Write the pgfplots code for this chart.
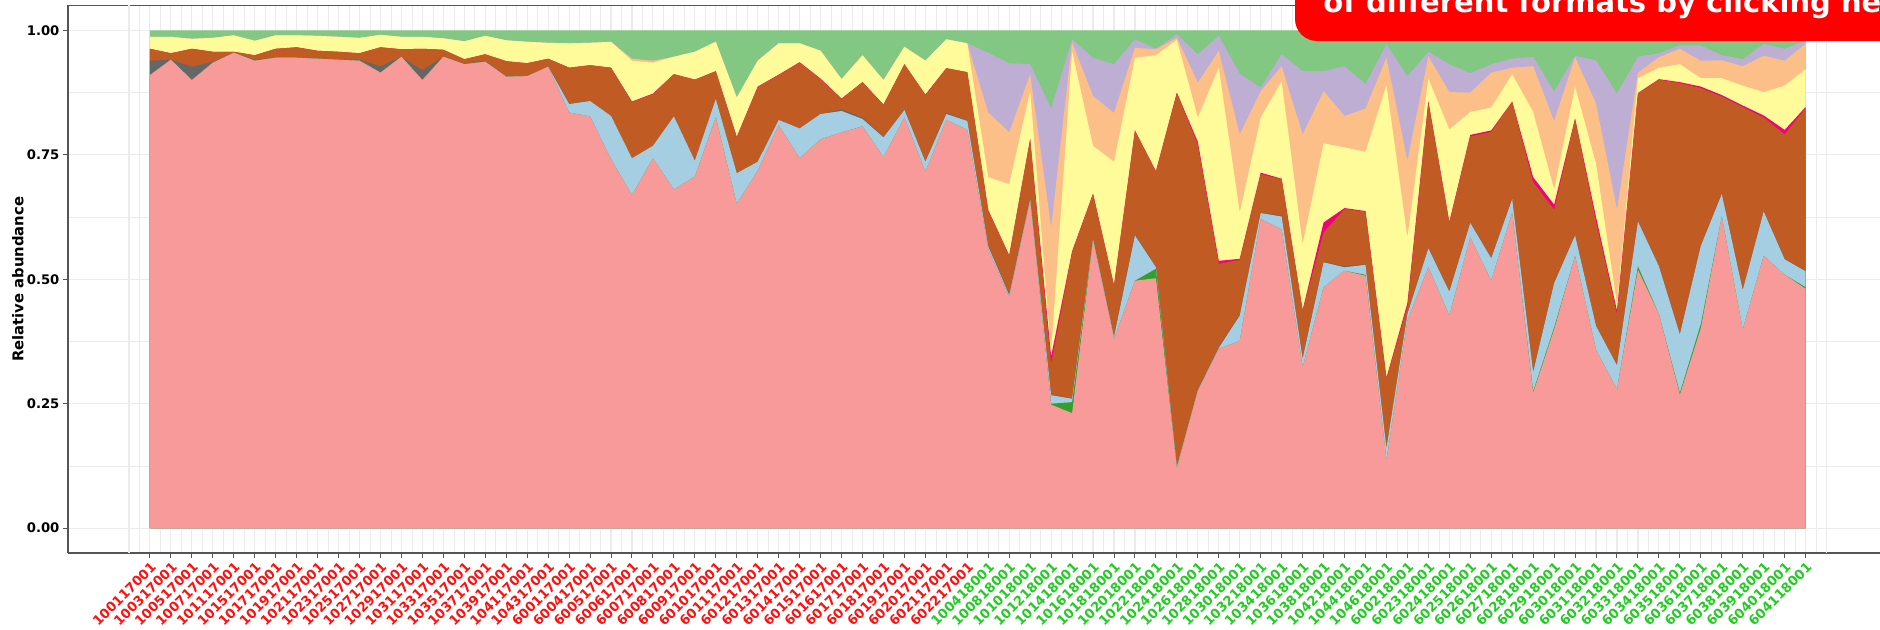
\documentclass[border=0pt]{standalone}
\usepackage{fontspec}
\setmainfont{DejaVu Sans}
\usepackage{pgfplots}
\pgfplotsset{compat=1.18}
\usepackage{pgfplotstable}
\definecolor{cPink}{HTML}{F89A9A}
\definecolor{cDG}{HTML}{33A02C}
\definecolor{cLB}{HTML}{A6CEE3}
\definecolor{cGrey}{HTML}{666666}
\definecolor{cBrown}{HTML}{BF5B23}
\definecolor{cMag}{HTML}{F0027F}
\definecolor{cYel}{HTML}{FFFA9A}
\definecolor{cOra}{HTML}{FCBF88}
\definecolor{cLav}{HTML}{BEAED4}
\definecolor{cGreen}{HTML}{82C782}
\definecolor{gridcol}{HTML}{EBEBEB}
\definecolor{axcol}{HTML}{555555}
\definecolor{labred}{HTML}{FF1010}
\definecolor{labgreen}{HTML}{22CC22}
\definecolor{boxred}{HTML}{FF0000}
\newcommand\R[1]{\textcolor{labred}{#1}}
\newcommand\G[1]{\textcolor{labgreen}{#1}}

\pgfplotstableread{
x P DG LB G B M Y O L T
0 0.910 0.910 0.910 0.939 0.963 0.963 0.987 0.987 0.987 1
1 0.941 0.941 0.941 0.941 0.954 0.954 0.987 0.987 0.987 1
2 0.900 0.900 0.900 0.927 0.963 0.963 0.983 0.983 0.983 1
3 0.935 0.935 0.935 0.937 0.957 0.957 0.985 0.985 0.985 1
4 0.955 0.955 0.955 0.955 0.957 0.957 0.990 0.990 0.990 1
5 0.939 0.939 0.939 0.941 0.950 0.950 0.979 0.979 0.979 1
6 0.945 0.945 0.945 0.945 0.963 0.963 0.990 0.990 0.990 1
7 0.945 0.945 0.945 0.945 0.966 0.966 0.990 0.990 0.990 1
8 0.943 0.943 0.943 0.943 0.959 0.959 0.989 0.989 0.989 1
9 0.941 0.941 0.941 0.942 0.957 0.957 0.987 0.987 0.987 1
10 0.939 0.939 0.939 0.941 0.954 0.954 0.985 0.985 0.985 1
11 0.915 0.915 0.915 0.928 0.966 0.966 0.991 0.991 0.991 1
12 0.947 0.947 0.947 0.947 0.962 0.962 0.987 0.987 0.987 1
13 0.900 0.900 0.900 0.920 0.963 0.963 0.987 0.987 0.987 1
14 0.947 0.947 0.947 0.947 0.961 0.961 0.984 0.984 0.984 1
15 0.932 0.932 0.932 0.933 0.942 0.942 0.978 0.978 0.978 1
16 0.937 0.937 0.937 0.939 0.952 0.952 0.989 0.989 0.989 1
17 0.907 0.907 0.907 0.908 0.938 0.938 0.980 0.980 0.980 1
18 0.908 0.908 0.908 0.908 0.934 0.934 0.977 0.977 0.977 1
19 0.927 0.927 0.927 0.928 0.943 0.943 0.975 0.975 0.975 1
20 0.835 0.835 0.852 0.853 0.925 0.925 0.974 0.974 0.974 1
21 0.827 0.827 0.858 0.858 0.930 0.930 0.975 0.975 0.975 1
22 0.741 0.741 0.828 0.828 0.925 0.925 0.977 0.977 0.977 1
23 0.669 0.669 0.743 0.743 0.856 0.857 0.939 0.943 0.943 1
24 0.743 0.743 0.768 0.768 0.872 0.873 0.935 0.939 0.939 1
25 0.680 0.680 0.827 0.827 0.912 0.912 0.947 0.947 0.947 1
26 0.706 0.706 0.738 0.738 0.901 0.901 0.957 0.957 0.957 1
27 0.825 0.825 0.862 0.862 0.918 0.918 0.977 0.977 0.977 1
28 0.651 0.651 0.713 0.713 0.785 0.786 0.865 0.865 0.865 1
29 0.718 0.718 0.736 0.736 0.886 0.887 0.939 0.939 0.939 1
30 0.809 0.809 0.820 0.820 0.910 0.911 0.974 0.974 0.974 1
31 0.743 0.743 0.803 0.803 0.935 0.936 0.974 0.974 0.974 1
32 0.781 0.781 0.832 0.832 0.902 0.903 0.959 0.959 0.959 1
33 0.795 0.795 0.838 0.841 0.862 0.863 0.902 0.902 0.902 1
34 0.807 0.807 0.822 0.825 0.896 0.896 0.950 0.950 0.950 1
35 0.745 0.745 0.785 0.786 0.850 0.851 0.900 0.900 0.900 1
36 0.825 0.825 0.840 0.841 0.932 0.932 0.967 0.967 0.967 1
37 0.716 0.716 0.736 0.737 0.870 0.871 0.939 0.939 0.939 1
38 0.820 0.820 0.832 0.834 0.924 0.924 0.982 0.982 0.982 1
39 0.800 0.800 0.818 0.819 0.916 0.916 0.974 0.974 0.974 1
40 0.561 0.561 0.566 0.569 0.638 0.639 0.705 0.835 0.955 1
41 0.464 0.464 0.468 0.471 0.547 0.548 0.691 0.795 0.934 1
42 0.658 0.658 0.661 0.664 0.781 0.782 0.878 0.912 0.932 1
43 0.248 0.250 0.267 0.268 0.330 0.345 0.354 0.604 0.843 1
44 0.231 0.253 0.260 0.261 0.554 0.556 0.958 0.976 0.982 1
45 0.578 0.578 0.581 0.584 0.671 0.672 0.768 0.868 0.945 1
46 0.380 0.380 0.384 0.386 0.487 0.488 0.736 0.834 0.932 1
47 0.497 0.497 0.588 0.590 0.798 0.799 0.945 0.965 0.982 1
48 0.502 0.521 0.524 0.525 0.716 0.717 0.950 0.962 0.963 1
49 0.120 0.120 0.123 0.124 0.874 0.875 0.981 0.985 0.992 1
50 0.275 0.275 0.277 0.278 0.771 0.776 0.825 0.895 0.952 1
51 0.360 0.360 0.362 0.364 0.531 0.537 0.925 0.959 0.989 1
52 0.376 0.376 0.427 0.429 0.539 0.541 0.634 0.791 0.913 1
53 0.621 0.621 0.633 0.634 0.711 0.714 0.825 0.878 0.885 1
54 0.600 0.600 0.626 0.628 0.701 0.702 0.898 0.928 0.952 1
55 0.323 0.323 0.340 0.341 0.437 0.438 0.571 0.791 0.918 1
56 0.484 0.484 0.534 0.535 0.594 0.614 0.773 0.878 0.918 1
57 0.517 0.517 0.524 0.526 0.641 0.643 0.765 0.828 0.928 1
58 0.507 0.509 0.529 0.530 0.636 0.637 0.756 0.843 0.892 1
59 0.136 0.136 0.160 0.161 0.300 0.302 0.890 0.945 0.972 1
60 0.417 0.417 0.430 0.431 0.445 0.452 0.584 0.738 0.908 1
61 0.524 0.524 0.562 0.563 0.855 0.858 0.903 0.948 0.957 1
62 0.427 0.427 0.475 0.476 0.614 0.615 0.801 0.876 0.932 1
63 0.584 0.584 0.613 0.614 0.787 0.790 0.836 0.875 0.914 1
64 0.497 0.497 0.542 0.543 0.796 0.799 0.845 0.915 0.932 1
65 0.634 0.634 0.661 0.662 0.856 0.857 0.912 0.925 0.943 1
66 0.272 0.275 0.313 0.314 0.695 0.705 0.836 0.928 0.947 1
67 0.399 0.403 0.492 0.493 0.640 0.650 0.681 0.818 0.877 1
68 0.547 0.547 0.588 0.589 0.822 0.823 0.887 0.946 0.949 1
69 0.358 0.358 0.406 0.407 0.616 0.625 0.732 0.853 0.940 1
70 0.279 0.279 0.327 0.328 0.430 0.437 0.450 0.640 0.873 1
71 0.519 0.526 0.616 0.617 0.873 0.874 0.904 0.915 0.947 1
72 0.430 0.430 0.526 0.527 0.901 0.902 0.925 0.946 0.954 1
73 0.268 0.272 0.389 0.390 0.894 0.896 0.932 0.963 0.970 1
74 0.402 0.410 0.567 0.568 0.884 0.887 0.904 0.939 0.970 1
75 0.626 0.626 0.671 0.672 0.867 0.870 0.904 0.940 0.950 1
76 0.399 0.399 0.478 0.479 0.846 0.849 0.889 0.928 0.942 1
77 0.547 0.547 0.636 0.637 0.825 0.829 0.876 0.949 0.973 1
78 0.509 0.509 0.540 0.541 0.791 0.800 0.889 0.939 0.963 1
79 0.481 0.484 0.516 0.517 0.844 0.846 0.922 0.973 0.979 1
}\data

\begin{document}
\begin{tikzpicture}
\begin{axis}[
  at={(34pt,38.5pt)}, anchor=south west,
  scale only axis, width=906pt, height=273.75pt,
  xmin=-3.91, xmax=82.55, ymin=-0.05, ymax=1.05,
  axis x line*=box, axis y line*=left,
  axis line style={color=axcol, line width=0.6pt, -},
  xtick={0,...,79},
  minor xtick={-0.5,0.5,...,79.5},
  extra x ticks={-1,80},
  extra x tick labels={},
  extra x tick style={major tick length=0pt, grid=major},
  ytick={0,0.25,0.5,0.75,1},
  yticklabels={0.00,0.25,0.50,0.75,1.00},
  minor ytick={0.125,0.375,0.625,0.875},
  grid=both,
  major grid style={color=gridcol, line width=0.55pt},
  minor grid style={color=gridcol, line width=0.3pt},
  tick align=outside,
  xtick pos=left, ytick pos=left,
  major tick length=2.6pt, minor tick length=0pt,
  tick style={color=axcol, line width=0.5pt},
  tick label style={font=\fontsize{6.6}{7}\selectfont\bfseries},
  xticklabel style={rotate=45, anchor=north east, inner sep=1pt, font=\fontsize{6.6}{7}\selectfont\bfseries},
  yticklabel style={inner sep=1.5pt},
  ylabel={Relative abundance},
  every axis y label/.style={at={(rel axis cs:-0.0276,0.5)}, rotate=90, anchor=center,
    font=\fontsize{7.4}{8}\selectfont\bfseries},
  xticklabels={\R{100117001},\R{100317001},\R{100517001},\R{100717001},\R{101117001},\R{101517001},\R{101717001},\R{101917001},\R{102117001},\R{102317001},\R{102517001},\R{102717001},\R{102917001},\R{103117001},\R{103317001},\R{103517001},\R{103717001},\R{103917001},\R{104117001},\R{104317001},\R{600117001},\R{600417001},\R{600517001},\R{600617001},\R{600717001},\R{600817001},\R{600917001},\R{601017001},\R{601117001},\R{601217001},\R{601317001},\R{601417001},\R{601517001},\R{601617001},\R{601717001},\R{601817001},\R{601917001},\R{602017001},\R{602117001},\R{602217001},\G{100418001},\G{100818001},\G{101018001},\G{101218001},\G{101418001},\G{101618001},\G{101818001},\G{102018001},\G{102218001},\G{102418001},\G{102618001},\G{102818001},\G{103018001},\G{103218001},\G{103418001},\G{103618001},\G{103818001},\G{104218001},\G{104418001},\G{104618001},\G{600218001},\G{602318001},\G{602418001},\G{602518001},\G{602618001},\G{602718001},\G{602818001},\G{602918001},\G{603018001},\G{603118001},\G{603218001},\G{603318001},\G{603418001},\G{603518001},\G{603618001},\G{603718001},\G{603818001},\G{603918001},\G{604018001},\G{604118001}},
]
\addplot[fill=cGreen, draw=none] table[x=x,y=T]{\data} \closedcycle;
\addplot[fill=cLav, draw=none] table[x=x,y=L]{\data} \closedcycle;
\addplot[fill=cOra, draw=none] table[x=x,y=O]{\data} \closedcycle;
\addplot[fill=cYel, draw=none] table[x=x,y=Y]{\data} \closedcycle;
\addplot[fill=cMag, draw=none] table[x=x,y=M]{\data} \closedcycle;
\addplot[fill=cBrown, draw=none] table[x=x,y=B]{\data} \closedcycle;
\addplot[fill=cGrey, draw=none] table[x=x,y=G]{\data} \closedcycle;
\addplot[fill=cLB, draw=none] table[x=x,y=LB]{\data} \closedcycle;
\addplot[fill=cDG, draw=none] table[x=x,y=DG]{\data} \closedcycle;
\addplot[fill=cPink, draw=none] table[x=x,y=P]{\data} \closedcycle;
\end{axis}
\fill[boxred, rounded corners=11pt, overlay] (647.5pt,294.5pt) rectangle (990pt,345pt);
\node[overlay, anchor=base west, text=white, inner sep=0pt,
  font=\fontsize{14.5}{16}\selectfont\bfseries] at (661.5pt,308.5pt) {of different formats by clicking here};
\pgfresetboundingbox
\useasboundingbox (0,0) rectangle (940pt,315pt);
\end{tikzpicture}
\end{document}
